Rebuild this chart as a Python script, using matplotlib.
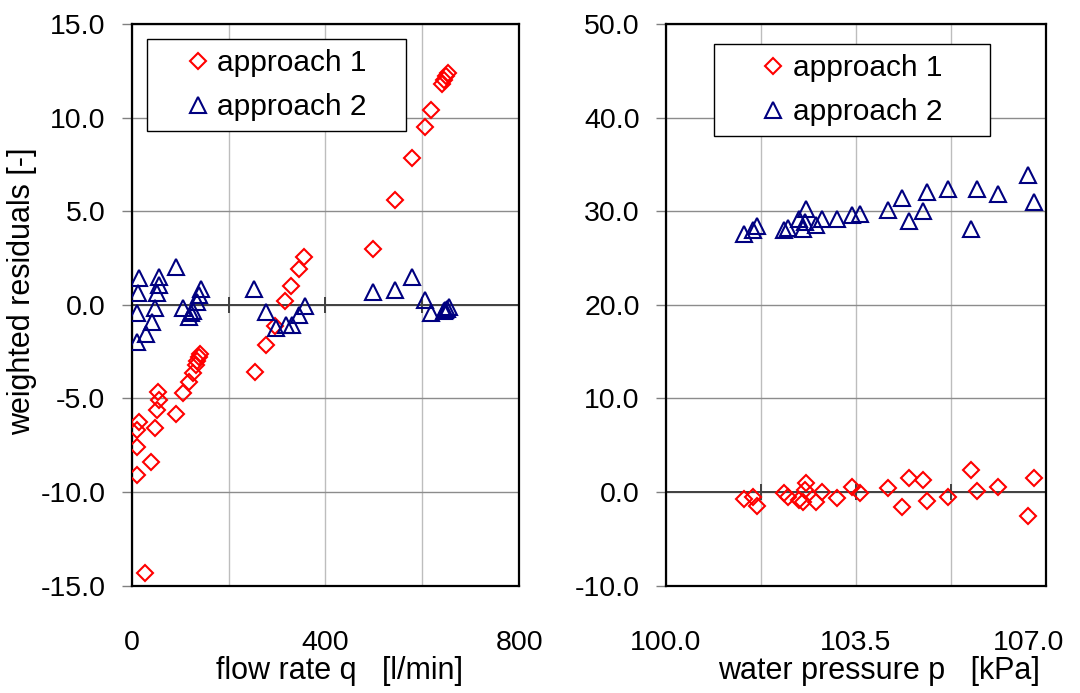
import numpy as np
import matplotlib
matplotlib.use("Agg")
import matplotlib.pyplot as plt
from matplotlib.patches import Rectangle
from matplotlib.transforms import ScaledTranslation

plt.rcParams['font.family'] = ['Liberation Sans', 'DejaVu Sans']

# flow rate q [l/min] vs weighted residuals
q1 = [11.6, 11.6, 11.6, 15, 27.5, 39.8, 47.5, 51.6, 55, 56.3, 90.8, 106.6, 118.3, 125.8,
      132.7, 135.4, 138.2, 141, 254, 277, 296, 317, 329, 345, 356, 499, 543, 578, 606,
      618, 641, 645, 649, 653]
r1 = [-9.08, -7.59, -6.66, -6.25, -14.3, -8.4, -6.55, -5.62, -4.65, -5.09, -5.84, -4.73,
      -4.11, -3.63, -3.19, -3.01, -2.81, -2.6, -3.58, -2.15, -1.14, 0.2, 1.02, 1.94, 2.55,
      2.96, 5.59, 7.85, 9.48, 10.4, 11.8, 12.0, 12.2, 12.4]
q2 = [11.6, 11.6, 13.6, 15.7, 29.5, 41.3, 48.1, 51.6, 55.7, 55.7, 91.4, 106.6, 119, 122.3,
      126, 135.4, 138.9, 143, 253, 277, 298, 318, 331, 346, 358, 499, 543, 578, 605, 618,
      644, 647, 650, 655]
r2 = [-1.98, -0.46, 0.61, 1.41, -1.53, -0.91, -0.14, 0.64, 1.05, 1.5, 2.03, -0.14, -0.64,
      -0.46, -0.3, 0.16, 0.52, 0.87, 0.87, -0.37, -1.26, -1.08, -1.08, -0.55, -0.05, 0.7,
      0.79, 1.5, 0.25, -0.46, -0.3, -0.25, -0.2, -0.12]

# water pressure p [kPa] vs weighted residuals
p = [101.44, 101.6, 101.67, 102.18, 102.24, 102.44, 102.53, 102.56, 102.58, 102.76, 102.87,
     103.14, 103.42, 103.57, 104.09, 104.34, 104.48, 104.73, 104.8, 105.19, 105.61, 105.72,
     106.11, 106.67, 106.78]
w1 = [-0.73, -0.55, -1.44, -0.12, -0.48, -0.83, -1.08, 0.23, 0.95, -1.01, 0.0, -0.58, 0.59,
      -0.12, 0.48, -1.55, 1.55, 1.3, -0.94, -0.55, 2.37, 0.13, 0.52, -2.54, 1.55]
w2 = [27.6, 28.03, 28.39, 27.96, 28.2, 29.2, 28.14, 28.85, 30.27, 28.5, 29.2, 29.2, 29.56,
      29.74, 30.17, 31.4, 28.95, 30.02, 32.04, 32.4, 28.1, 32.4, 31.87, 33.9, 30.98]

labels = ["approach 1", "approach 2"]

fig = plt.figure(figsize=(10.8, 6.93), dpi=100)
ax1 = fig.add_axes([0.1219, 0.1548, 0.3589, 0.8105])
ax2 = fig.add_axes([0.6167, 0.1548, 0.3519, 0.8105])

def style_axes(ax, xticks, xlabels, yticks, xlim, ylim):
    ax.set_xlim(*xlim)
    ax.set_ylim(*ylim)
    ax.set_xticks(xticks)
    ax.set_xticklabels(xlabels)
    ax.set_yticks(yticks)
    ax.set_yticklabels([f"{v:.1f}" for v in yticks])
    ax.grid(axis='x', color='#bdbdbd', lw=1.0, zorder=0)
    ax.grid(axis='y', color='#8c8c8c', lw=1.0, zorder=0)
    ax.set_axisbelow(True)
    ax.axhline(0, color='#404040', lw=1.4, zorder=1)
    # small tick marks on the zero axis
    ax.plot(xticks[1:-1], [0] * len(xticks[1:-1]), ls='none', marker='|', ms=12,
            mew=1.4, color='#404040', zorder=1)
    for s in ax.spines.values():
        s.set_linewidth(1.6)
        s.set_color('black')
    ax.tick_params(axis='x', length=0, pad=32, labelsize=20.5)
    ax.tick_params(axis='y', direction='out', length=7, width=1, color='#808080',
                   pad=12, labelsize=20.5)

def add_legend(ax, handles, box):
    ax.add_patch(Rectangle((box[0], box[1]), box[2], box[3], transform=ax.transAxes,
                           facecolor='white', edgecolor='black', lw=1.0, zorder=4))
    leg = ax.legend(handles, labels, loc='center',
                    bbox_to_anchor=(box[0] + box[2] / 2, box[1] + box[3] / 2),
                    frameon=False, fontsize=21.5, handlelength=0.8, handletextpad=0.25,
                    labelspacing=0.54, borderpad=0.2)
    leg.set_zorder(5)

style_axes(ax1, [0, 200, 400, 600, 800], ['0', '', '400', '', '800'],
           [-15, -10, -5, 0, 5, 10, 15], (0, 800), (-15, 15))
style_axes(ax2, [100, 101.75, 103.5, 105.25, 107], ['100.0', '', '103.5', '', '107.0'],
           [-10, 0, 10, 20, 30, 40, 50], (100, 107), (-10, 50))

h1, = ax1.plot(q1, r1, ls='none', marker='D', ms=8.2, mfc='none', mec='#ff0000', mew=1.5, zorder=3)
h2, = ax1.plot(q2, r2, ls='none', marker='^', ms=11, mfc='none', mec='#000080', mew=1.5, zorder=3)
g1, = ax2.plot(p, w1, ls='none', marker='D', ms=8.2, mfc='none', mec='#ff0000', mew=1.5, zorder=3)
g2, = ax2.plot(p, w2, ls='none', marker='^', ms=11, mfc='none', mec='#000080', mew=1.5, zorder=3)

add_legend(ax1, [h1, h2], (0.0395, 0.8096, 0.668, 0.1637))
add_legend(ax2, [g1, g2], (0.126, 0.8007, 0.726, 0.1637))

ax1.set_xlabel("flow rate q   [l/min]", fontsize=22)
ax1.xaxis.set_label_coords(0.535, -0.125)
ax1.set_ylabel("weighted residuals [-]", fontsize=22)
ax1.yaxis.set_label_coords(-0.244, 0.525)
ax2.set_xlabel("water pressure p   [kPa]", fontsize=22)
ax2.xaxis.set_label_coords(0.56, -0.125)
ax1.xaxis.label.set_va('top')
ax2.xaxis.label.set_va('top')

# last pressure label is pushed inward
last = ax2.get_xticklabels()[-1]
last.set_transform(last.get_transform() + ScaledTranslation(-0.18, 0, fig.dpi_scale_trans))

fig.savefig("out.png", dpi=100)
